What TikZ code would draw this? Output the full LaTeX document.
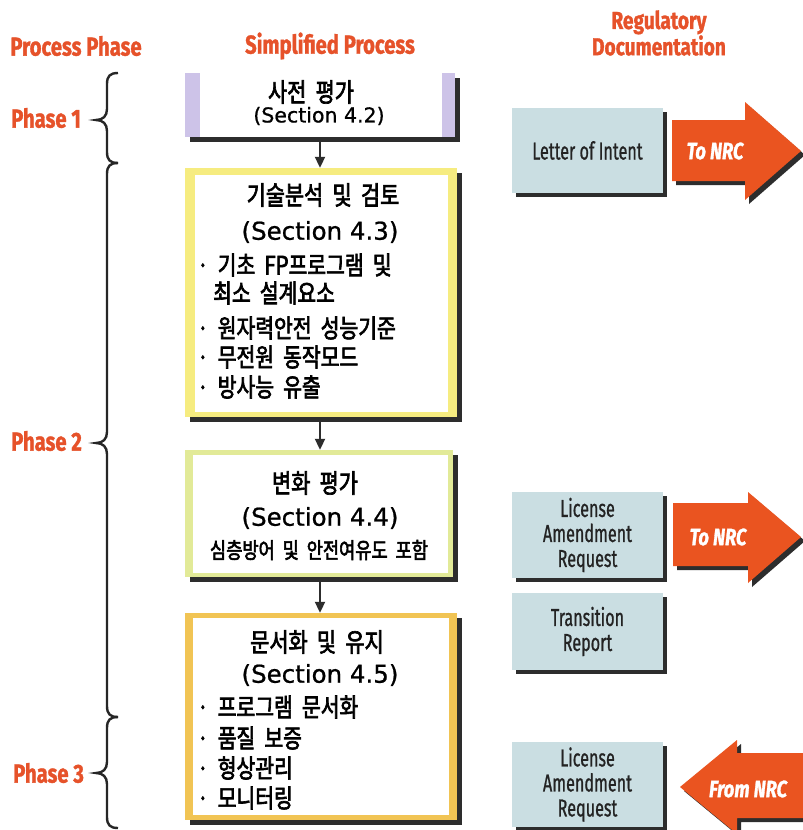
\documentclass[tikz,border=0pt]{standalone}
\usepackage{fontspec}
\usetikzlibrary{shadows,arrows.meta}
\newfontfamily\kfont[FakeStretch=0.8,WordSpace=2.0,FakeBold=2.5]{Noto Sans CJK KR}
\newfontfamily\lfont[FakeBold=0.8]{DejaVu Sans}
\newfontfamily\hfont[FakeStretch=0.78,FakeBold=1.2]{Fira Sans}
\newfontfamily\dfont[FakeStretch=0.66,FakeBold=0.8]{Fira Sans}
\definecolor{hdrcol}{RGB}{230,82,42}
\definecolor{shadcol}{RGB}{45,45,45}
\definecolor{lav}{RGB}{205,195,232}
\definecolor{yelb}{RGB}{246,236,128}
\definecolor{limeb}{RGB}{226,234,152}
\definecolor{orb}{RGB}{241,196,84}
\definecolor{docfill}{RGB}{202,222,226}
\definecolor{doctext}{RGB}{35,35,35}
\definecolor{arrfill}{RGB}{234,84,32}
\newcommand\phbrace[3]{%
  \draw[bracestyle] (118,#1) .. controls (110,#1) and (107,#1+3) .. (107,#1+11)
    -- (107,#2-11) .. controls (107,#2-4) and (103,#2) .. (96,#2)
    .. controls (103,#2) and (107,#2+4) .. (107,#2+11)
    -- (107,#3-11) .. controls (107,#3-3) and (110,#3) .. (118,#3);}
\begin{document}
\begin{tikzpicture}[x=1pt,y=-1pt,
  hdr/.style={font=\hfont\bfseries\fontsize{26}{21}\selectfont, text=hdrcol, align=center, inner sep=0pt},
  bracestyle/.style={line width=2.4pt, black!85},
  pbox/.style={rectangle, inner sep=0pt, draw=none,
     drop shadow={shadow xshift=5pt, shadow yshift=-5pt, fill=shadcol, opacity=1}},
  ktitle/.style={font=\kfont\fontsize{26}{28}\selectfont, inner sep=0pt},
  ksec/.style={font=\lfont\fontsize{24.5}{26}\selectfont, inner sep=0pt},
  kitem/.style={font=\kfont\fontsize{25.5}{28}\selectfont, inner sep=0pt, anchor=west},
  doc/.style={rectangle, fill=docfill, minimum width=151pt, inner sep=0pt,
     font=\dfont\fontsize{24.5}{25}\selectfont, text=doctext, align=center,
     drop shadow={shadow xshift=4pt, shadow yshift=-4pt, fill=shadcol, opacity=1}},
  nrcarrow/.style={fill=arrfill, drop shadow={shadow xshift=4pt, shadow yshift=-4pt, fill=shadcol, opacity=1}},
  nrctext/.style={font=\hfont\bfseries\itshape\fontsize{23.5}{26}\selectfont, text=white, inner sep=0pt},
  flow/.style={line width=2pt, shadcol, -{Triangle[length=11pt,width=10pt]}}
]
\useasboundingbox (0,0) rectangle (803,830);
\fill[white] (0,0) rectangle (803,830);

% headers
\node[hdr] (hphase) at (76,46) {Process Phase};
\node[hdr] (hsimp) at (330,46) {Simplified Process};
\node[hdr, font=\hfont\bfseries\fontsize{24.5}{21}\selectfont] (hreg) at (659,33) {Regulatory\\Documentation};

% phase labels and braces
\node[hdr, anchor=west] (ph1) at (11,118) {Phase 1};
\node[hdr, anchor=west] (ph2) at (11,441) {Phase 2};
\node[hdr, anchor=west] (ph3) at (13,773) {Phase 3};
\phbrace{73}{120}{163}
\phbrace{163}{443}{717}
\phbrace{717}{773}{828}

% process box 1
\node[pbox, fill=lav, minimum width=270pt, minimum height=64pt] (p1) at (320,105) {};
\fill[white] (200,73) rectangle (442,137);
\node[ktitle] (p1t) at (311,92) {사전 평가};
\node[ksec, font=\lfont\fontsize{20.5}{24}\selectfont] (p1s) at (319,116) {(Section 4.2)};

% process box 2
\node[pbox, fill=yelb, minimum width=272pt, minimum height=249pt] (p2) at (321,292.5) {};
\fill[white] (195,175) rectangle (448,412);
\node[ktitle] (p2t) at (323,195) {기술분석 및 검토};
\node[ksec] (p2s) at (320,232) {(Section 4.3)};
\node[kitem] (p2a) at (197,265) {· 기초 FP프로그램 및};
\node[kitem] (p2b) at (213,293) {최소 설계요소};
\node[kitem] (p2c) at (197,328) {· 원자력안전 성능기준};
\node[kitem] (p2d) at (197,357) {· 무전원 동작모드};
\node[kitem] (p2e) at (197,387) {· 방사능 유출};

% process box 3
\node[pbox, fill=limeb, minimum width=268pt, minimum height=127pt] (p3) at (319,513.5) {};
\fill[white] (193,455) rectangle (448,573);
\node[ktitle] (p3t) at (315,483) {변화 평가};
\node[ksec] (p3s) at (320,518) {(Section 4.4)};
\node[ktitle, font=\kfont\fontsize{22}{24}\selectfont] (p3c) at (319,550) {심층방어 및 안전여유도 포함};

% process box 4
\node[pbox, fill=orb, minimum width=272pt, minimum height=207pt] (p4) at (321,716.5) {};
\fill[white] (193,618) rectangle (449,815);
\node[ktitle] (p4t) at (317,642) {문서화 및 유지};
\node[ksec] (p4s) at (320,675) {(Section 4.5)};
\node[kitem] (p4a) at (197,707) {· 프로그램 문서화};
\node[kitem] (p4b) at (197,738) {· 품질 보증};
\node[kitem] (p4c) at (197,768) {· 형상관리};
\node[kitem] (p4d) at (197,798) {· 모니터링};

% flow arrows
\draw[flow] ([yshift=-4pt]p1.south) -- (p1.south |- p2.north);
\draw[flow] ([yshift=-5pt]p1.south |- p2.south) -- (p1.south |- p3.north);
\draw[flow] ([yshift=-5pt]p1.south |- p3.south) -- (p1.south |- p4.north);

% documentation boxes
\node[doc, minimum height=85pt] (d1) at (587.5,150.5) {Letter of Intent};
\node[doc, minimum height=86pt] (d2) at (587.5,535) {License\\Amendment\\Request};
\node[doc, minimum height=77pt] (d3) at (587.5,631.5) {Transition\\Report};
\node[doc, minimum height=85pt] (d4) at (587.5,784.5) {License\\Amendment\\Request};

% NRC arrows
\path[nrcarrow] (672,120) -- (745,120) -- (745,102) -- (801,151) -- (745,200) -- (745,181) -- (672,181) -- cycle;
\node[nrctext] (n1) at (715,151) {To NRC};
\path[nrcarrow] (673,503) -- (748,503) -- (748,492) -- (801,537) -- (748,583) -- (748,566) -- (673,566) -- cycle;
\node[nrctext] (n2) at (718,537) {To NRC};
\path[nrcarrow] (806,753) -- (737,753) -- (737,740) -- (680,787) -- (737,834) -- (737,818) -- (806,818) -- cycle;
\node[nrctext] (n3) at (748,789) {From NRC};
\end{tikzpicture}
\end{document}
